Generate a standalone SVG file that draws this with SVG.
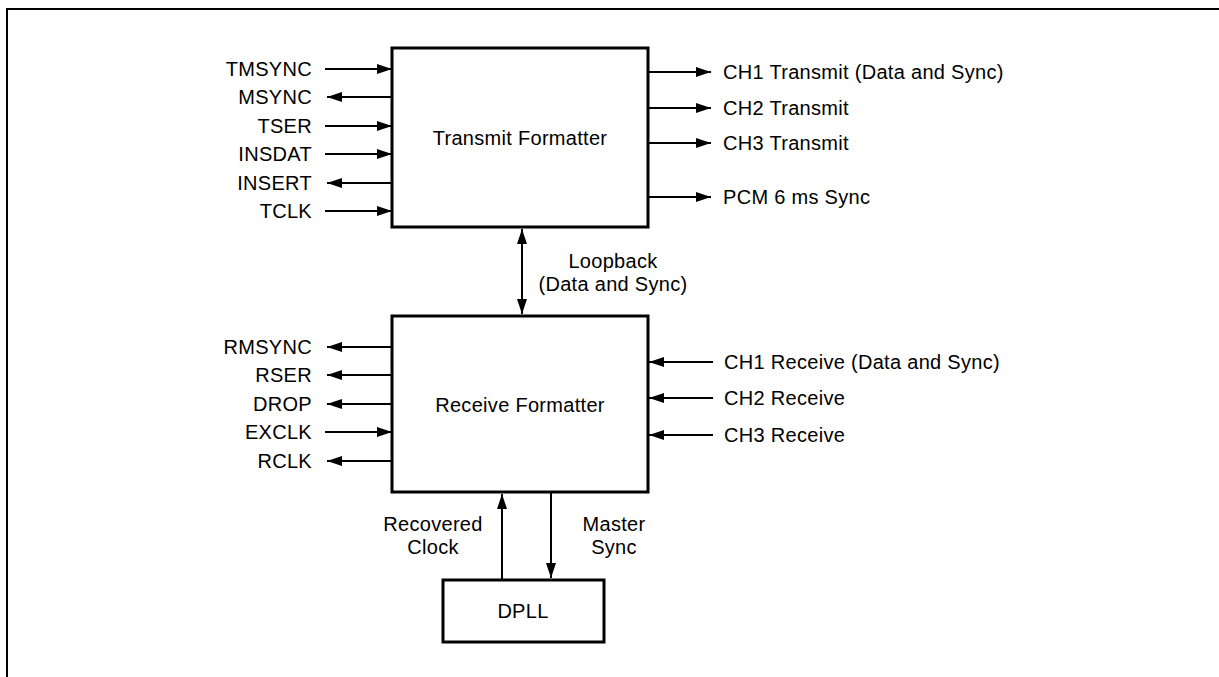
<svg xmlns="http://www.w3.org/2000/svg" width="1219" height="677" viewBox="0 0 1219 677">
<style>
text{font-family:"Liberation Sans",Arial,sans-serif;font-size:20px;letter-spacing:0.3px;fill:#000}
.r{text-anchor:end}
.m{text-anchor:middle}
.box{fill:#fff;stroke:#000;stroke-width:3}
.c{stroke:#000;stroke-width:2;fill:none}
</style>
<defs>
<marker id="ah" viewBox="0 0 15 10" refX="15" refY="5" markerWidth="15" markerHeight="10" markerUnits="userSpaceOnUse" orient="auto-start-reverse">
<path d="M0,0 L15,5 L0,10 z" fill="#000"/>
</marker>
</defs>
<path d="M7,677 V9 H1219" fill="none" stroke="#000" stroke-width="2"/>

<g id="transmit">
<rect class="box" x="392" y="48" width="256" height="179"/>
<text class="m" x="520" y="145">Transmit Formatter</text>
</g>
<g id="receive">
<rect class="box" x="392" y="316" width="256" height="176"/>
<text class="m" x="520" y="412">Receive Formatter</text>
</g>
<g id="dpll">
<rect class="box" x="443" y="580" width="161" height="62"/>
<text class="m" x="523" y="618">DPLL</text>
</g>

<g id="connectors">
<line class="c" x1="325" y1="69" x2="392" y2="69" marker-end="url(#ah)"/>
<line class="c" x1="392" y1="97" x2="327" y2="97" marker-end="url(#ah)"/>
<line class="c" x1="325" y1="126" x2="392" y2="126" marker-end="url(#ah)"/>
<line class="c" x1="325" y1="154" x2="392" y2="154" marker-end="url(#ah)"/>
<line class="c" x1="392" y1="183" x2="327" y2="183" marker-end="url(#ah)"/>
<line class="c" x1="325" y1="211" x2="392" y2="211" marker-end="url(#ah)"/>

<line class="c" x1="648" y1="72" x2="711" y2="72" marker-end="url(#ah)"/>
<line class="c" x1="648" y1="108" x2="711" y2="108" marker-end="url(#ah)"/>
<line class="c" x1="648" y1="143" x2="711" y2="143" marker-end="url(#ah)"/>
<line class="c" x1="648" y1="197" x2="711" y2="197" marker-end="url(#ah)"/>

<line class="c" x1="522" y1="229" x2="522" y2="314" marker-start="url(#ah)" marker-end="url(#ah)"/>

<line class="c" x1="392" y1="347" x2="327" y2="347" marker-end="url(#ah)"/>
<line class="c" x1="392" y1="375" x2="327" y2="375" marker-end="url(#ah)"/>
<line class="c" x1="392" y1="404" x2="327" y2="404" marker-end="url(#ah)"/>
<line class="c" x1="325" y1="432" x2="392" y2="432" marker-end="url(#ah)"/>
<line class="c" x1="392" y1="461" x2="327" y2="461" marker-end="url(#ah)"/>

<line class="c" x1="713" y1="362" x2="649" y2="362" marker-end="url(#ah)"/>
<line class="c" x1="713" y1="398" x2="649" y2="398" marker-end="url(#ah)"/>
<line class="c" x1="713" y1="435" x2="649" y2="435" marker-end="url(#ah)"/>

<line class="c" x1="502" y1="580" x2="502" y2="494" marker-end="url(#ah)"/>
<line class="c" x1="551" y1="492" x2="551" y2="578" marker-end="url(#ah)"/>
</g>

<g id="labels">
<text class="r" x="312" y="76">TMSYNC</text>
<text class="r" x="312" y="104">MSYNC</text>
<text class="r" x="312" y="133">TSER</text>
<text class="r" x="312" y="161">INSDAT</text>
<text class="r" x="312" y="190">INSERT</text>
<text class="r" x="312" y="218">TCLK</text>

<text x="723" y="79">CH1 Transmit (Data and Sync)</text>
<text x="723" y="115">CH2 Transmit</text>
<text x="723" y="150">CH3 Transmit</text>
<text x="723" y="204">PCM 6 ms Sync</text>

<text class="m" x="613" y="268">Loopback</text>
<text class="m" x="613" y="291">(Data and Sync)</text>

<text class="r" x="312" y="354">RMSYNC</text>
<text class="r" x="312" y="382">RSER</text>
<text class="r" x="312" y="411">DROP</text>
<text class="r" x="312" y="439">EXCLK</text>
<text class="r" x="312" y="468">RCLK</text>

<text x="724" y="369">CH1 Receive (Data and Sync)</text>
<text x="724" y="405">CH2 Receive</text>
<text x="724" y="442">CH3 Receive</text>

<text class="m" x="433" y="531">Recovered</text>
<text class="m" x="433" y="554">Clock</text>
<text class="m" x="614" y="531">Master</text>
<text class="m" x="614" y="554">Sync</text>
</g>
</svg>
